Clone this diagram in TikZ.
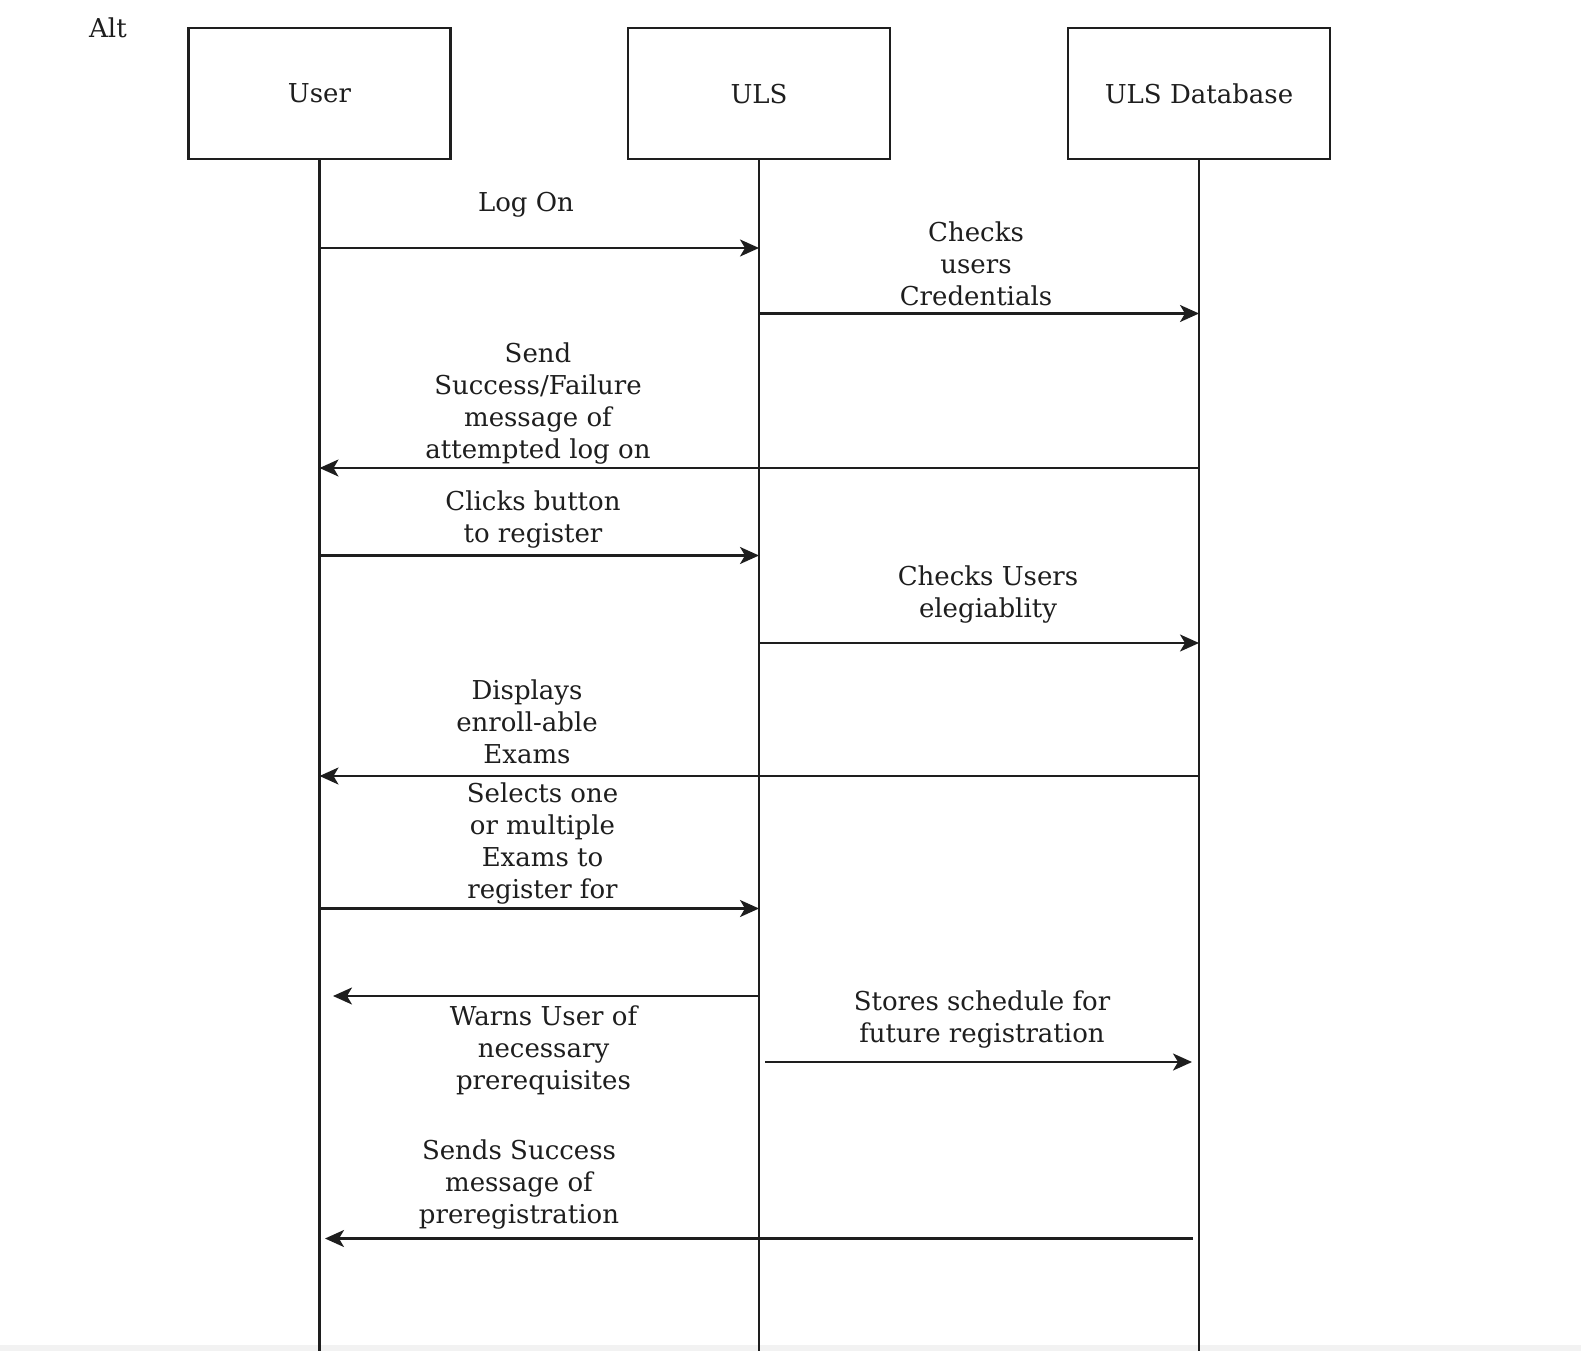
\documentclass[tikz,border=0pt]{standalone}
\usepackage{fontspec}
\setmainfont{DejaVu Serif}
\usetikzlibrary{arrows.meta}
\definecolor{ink}{HTML}{1E1E1E}
\definecolor{txt}{HTML}{1E1E1E}
\tikzset{
  actor/.style={draw=ink, line width=2.2pt, minimum width=262pt, minimum height=131pt, inner sep=0pt, font=\fontsize{26}{32}\selectfont, text=txt},
  life/.style={draw=ink, line width=2.2pt},
  msg/.style={draw=ink, line width=2.2pt, -{Stealth[length=19pt, width=17pt, inset=5pt]}},
  lbl/.style={align=center, inner sep=0pt, font=\fontsize{26}{32}\selectfont, text=txt}
}
\begin{document}
\begin{tikzpicture}[x=1pt, y=-1pt]
\useasboundingbox (0,0) rectangle (1581,1351);
\fill[white] (0,0) rectangle (1581,1351);
\fill[black!5] (0,1345) rectangle (1581,1351);
\node[lbl, anchor=west] (alt) at (89,28) {Alt};
% actors
\node[actor] (user) at (319.5,93.7) {User};
\node[actor] (uls) at (759,93.7) {ULS};
\node[actor] (db) at (1199,93.7) {ULS Database};
\coordinate (bot) at (0,1351);
\draw[life] (user.south) -- (user |- bot);
\draw[life] (uls.south) -- (uls |- bot);
\draw[life] (db.south) -- (db |- bot);
% rows
\coordinate (r1) at (0,248);
\coordinate (r2) at (0,313.5);
\coordinate (r3) at (0,468);
\coordinate (r4) at (0,555.5);
\coordinate (r5) at (0,643);
\coordinate (r6) at (0,776);
\coordinate (r7) at (0,908.5);
\coordinate (r8) at (0,996);
\coordinate (r9) at (0,1062);
\coordinate (r10) at (0,1238.5);
\coordinate (w8) at (333,0);
\coordinate (s9) at (765,0);
\coordinate (e9) at (1192,0);
\coordinate (s10) at (1193,0);
\coordinate (e10) at (325,0);
% messages
\draw[msg] (user |- r1) -- (uls |- r1);
\draw[msg] (uls |- r2) -- (db |- r2);
\draw[msg] (db |- r3) -- (user |- r3);
\draw[msg] (user |- r4) -- (uls |- r4);
\draw[msg] (uls |- r5) -- (db |- r5);
\draw[msg] (db |- r6) -- (user |- r6);
\draw[msg] (user |- r7) -- (uls |- r7);
\draw[msg] (uls |- r8) -- (w8 |- r8);
\draw[msg] (s9 |- r9) -- (e9 |- r9);
\draw[msg] (s10 |- r10) -- (e10 |- r10);
% labels
\node[lbl] (m1) at (526,205) {Log On};
\node[lbl] (m2) at (976,264) {Checks\\users\\Credentials};
\node[lbl] (m3) at (538,404) {Send\\Success/Failure\\message of\\attempted log on};
\node[lbl] (m4) at (533,519.5) {Clicks button\\to register};
\node[lbl] (m5) at (988,594.5) {Checks Users\\elegiablity};
\node[lbl] (m6) at (527,722) {Displays\\enroll-able\\Exams};
\node[lbl] (m7) at (542.5,843.5) {Selects one\\or multiple\\Exams to\\register for};
\node[lbl] (m8) at (543.5,1050) {Warns User of\\necessary\\prerequisites};
\node[lbl] (m9) at (982,1019.5) {Stores schedule for\\future registration};
\node[lbl] (m10) at (519,1184) {Sends Success\\message of\\preregistration};
\end{tikzpicture}
\end{document}
